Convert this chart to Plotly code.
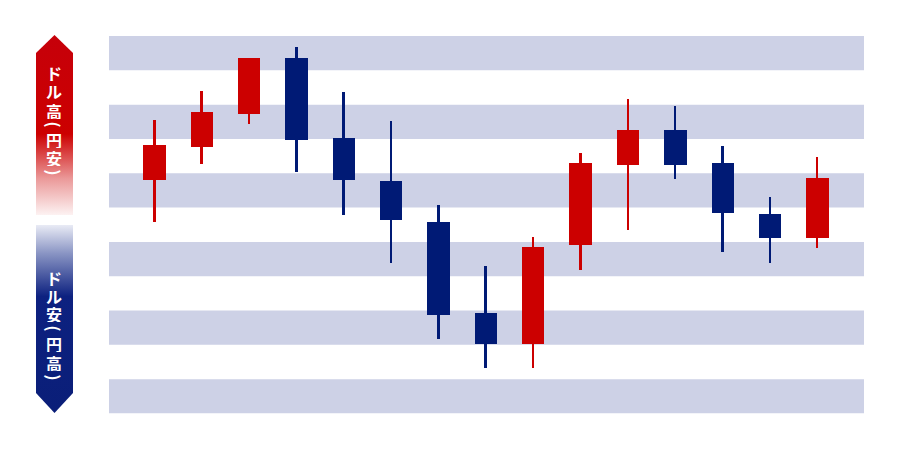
import plotly.graph_objects as go

# ---- data (price levels in stripe units, 0 = bottom of chart) ----
sessions = list(range(1, 16))
open_ = [6.80, 7.76, 8.72, 10.37, 8.04, 6.77, 5.59, 2.94, 2.03, 4.90, 7.23, 8.25, 7.29, 5.80, 5.11]
high = [8.55, 9.39, 10.37, 10.67, 9.38, 8.53, 6.08, 4.29, 5.14, 7.59, 9.16, 8.96, 7.79, 6.31, 7.47]
low = [5.57, 7.27, 8.43, 7.05, 5.78, 4.39, 2.17, 1.33, 1.33, 4.18, 5.36, 6.84, 4.71, 4.39, 4.82]
close = [7.82, 8.79, 10.37, 7.98, 6.80, 5.64, 2.88, 2.03, 4.86, 7.29, 8.25, 7.23, 5.84, 5.11, 6.87]

up_label = ["ド", "ル", "高", "(", "円", "安", ")"]
down_label = ["ド", "ル", "安", "(", "円", "高", ")"]

RED = "#cc0000"
NAVY = "#001a75"
STRIPE = "#cdd1e6"

OFF = 8  # page body margin offset in pixels

colors = [RED if c >= o else NAVY for o, c in zip(open_, close)]

fig = go.Figure()

# wicks
fig.add_trace(go.Bar(
    x=sessions,
    y=[h - l for h, l in zip(high, low)],
    base=low,
    width=0.042,
    marker=dict(color=colors, line=dict(width=0)),
    hoverinfo="skip",
))
# bodies
fig.add_trace(go.Bar(
    x=sessions,
    y=[abs(c - o) for o, c in zip(open_, close)],
    base=[min(o, c) for o, c in zip(open_, close)],
    width=0.472,
    marker=dict(color=colors, line=dict(width=0)),
    hoverinfo="skip",
))

# ---- left arrows (decorative, on helper axes measured in page pixels) ----
fig.add_trace(go.Scatter(
    x=[54.5, 73, 73, 36, 36, 54.5],
    y=[415, 397, 235, 235, 397, 415],
    mode="lines", line=dict(width=0),
    fill="toself",
    fillgradient=dict(type="vertical", start=235, stop=415,
                      colorscale=[[0, "#fdf2f2"], [0.2, "#eb9a9a"], [0.45, "#cc0000"], [1, "#c6000a"]]),
    xaxis="x2", yaxis="y2", hoverinfo="skip",
))
fig.add_trace(go.Scatter(
    x=[54.5, 73, 73, 36, 36, 54.5],
    y=[37, 57, 225, 225, 57, 37],
    mode="lines", line=dict(width=0),
    fill="toself",
    fillgradient=dict(type="vertical", start=37, stop=225,
                      colorscale=[[0, "#0a1e78"], [0.62, "#0d2180"], [0.85, "#8a95c4"], [1, "#e9ebf5"]]),
    xaxis="x2", yaxis="y2", hoverinfo="skip",
))

annotations = []
up_pos = [72, 90, 110, 124.5, 139, 157, 172.5]
down_pos = [277, 295, 313.5, 328.5, 343.5, 362, 377.5]
for chars, pos in ((up_label, up_pos), (down_label, down_pos)):
    for ch, py in zip(chars, pos):
        is_paren = ch in "()"
        ann = dict(
            x=54, y=450 - py, xref="x2", yref="y2",
            text=f"<b>{ch}</b>", showarrow=False,
            xanchor="center", yanchor="middle",
            textangle=90 if is_paren else 0,
            borderpad=0,
            font=dict(family="Noto Sans CJK JP", size=16, color="white"),
        )
        if not is_paren:
            ann["height"] = 17
        annotations.append(ann)

shapes = []
for k in range(0, 11, 2):
    shapes.append(dict(type="rect", xref="x domain", yref="y",
                       x0=0, x1=1, y0=k, y1=k + 1,
                       fillcolor=STRIPE, line=dict(width=0), layer="below"))

W, H = 900, 450
fig.update_layout(
    width=W, height=H,
    margin=dict(l=0, r=0, t=0, b=0),
    paper_bgcolor="white", plot_bgcolor="white",
    showlegend=False, barmode="overlay", bargap=0,
    hovermode=False,
    xaxis=dict(domain=[(109 - OFF) / W, (864 - OFF) / W], range=[0.039, 15.984],
               visible=False, showgrid=False, zeroline=False),
    yaxis=dict(domain=[1 - (413.5 - OFF) / H, 1 - (36 - OFF) / H], range=[0, 11],
               visible=False, showgrid=False, zeroline=False),
    # helper axes: x in page px, y = 450 - page px
    xaxis2=dict(domain=[0, 90 / W], range=[OFF, 90 + OFF], visible=False, anchor="y2"),
    yaxis2=dict(domain=[0, 1], range=[-OFF, H - OFF], visible=False, anchor="x2"),
    shapes=shapes,
    annotations=annotations,
)

fig.write_html("out.html")
